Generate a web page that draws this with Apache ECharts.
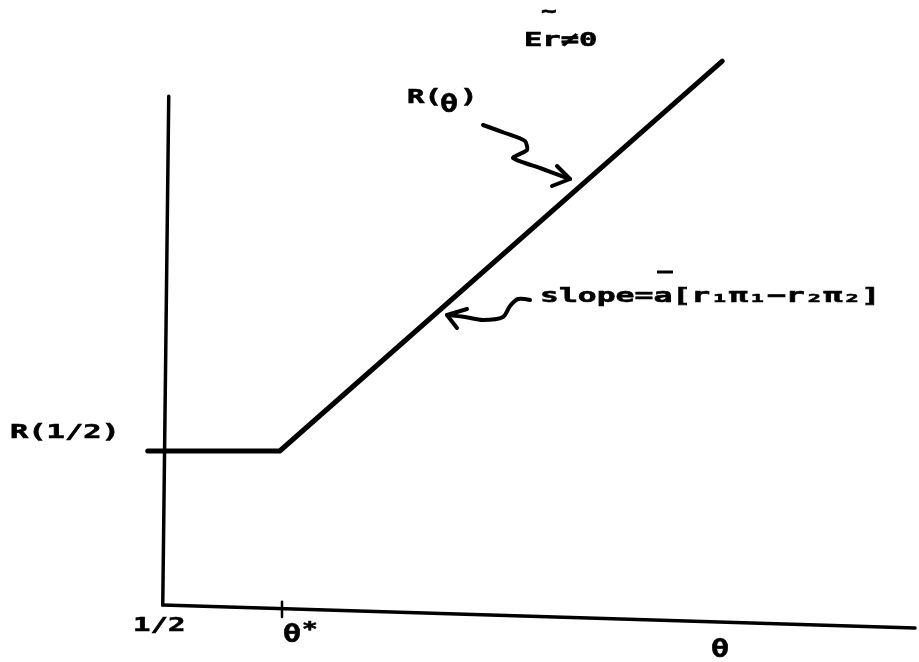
<!DOCTYPE html>
<html><head><meta charset="utf-8">
<script src="https://cdn.jsdelivr.net/npm/echarts@6/dist/echarts.min.js"></script>
<style>html,body{margin:0;padding:0;background:#fff}#c{width:919px;height:662px}</style>
</head><body><div id="c"></div>
<script>
// Abstract units
const thetaTickValues = [0, 1.56];            // 1/2 and θ*
const thetaTickLabels = ['1/2', 'θ*'];
const rHalf = 2.8;                             // R(1/2)
const rCurve = [[-0.23, 2.8], [1.53, 2.8], [7.43, 9.89]];   // R(θ)
const xAxisPts = [[-0.03, 0], [10, -0.42]];
const yAxisPts = [[-0.03, 0], [0.05, 9.25]];
const thetaStarTick = [[1.56, -0.22], [1.56, 0.06]];

const chart = echarts.init(document.getElementById('c'));
const F = 'bold 20px "DejaVu Sans Mono"';
const lineStyle = (w) => ({ color: '#000', width: w, cap: 'round', join: 'round' });

chart.setOption({
  animation: false,
  backgroundColor: '#fff',
  grid: { left: 90, right: 4, top: 55, bottom: 2 },
  xAxis: { type: 'value', min: -1, max: 10, show: false },
  yAxis: { type: 'value', min: -1, max: 10, show: false },
  series: [
    { type: 'line', data: yAxisPts, symbol: 'none', lineStyle: lineStyle(3.5) },
    { type: 'line', data: xAxisPts, symbol: 'none', lineStyle: lineStyle(3.5) },
    { type: 'line', data: thetaStarTick, symbol: 'none', lineStyle: lineStyle(2.5) },
    { type: 'line', data: rCurve, symbol: 'none', lineStyle: lineStyle(5) }
  ]
});

function txt(text, x, y, sx, extra, font) {
  return Object.assign({
    type: 'text', x: x, y: y, scaleX: sx || 1.5,
    style: { text: text, font: font || F, fill: '#000', stroke: '#000', lineWidth: 0.6, align: 'left', verticalAlign: 'top' }
  }, extra || {});
}
const TH = 'bold 24px "DejaVu Sans Mono"';
const p0 = chart.convertToPixel({ gridIndex: 0 }, [thetaTickValues[0], 0]);
const p1 = chart.convertToPixel({ gridIndex: 0 }, [thetaTickValues[1], 0]);
const pr = chart.convertToPixel({ gridIndex: 0 }, [0, rHalf]);
const arrowStyle = { stroke: '#000', lineWidth: 4, fill: null, lineCap: 'round', lineJoin: 'round' };

chart.setOption({
  graphic: [
    txt(thetaTickLabels[0], p0[0] - 32, 616, 1.45),
    txt('θ', p1[0] + 1, 624, 1.25, null, TH),
    txt('*', p1[0] + 20, 620, 1.3),
    txt('θ', 711, 639, 1.25, null, TH),
    txt('R(1/2)', 10, pr[1] - 28, 1.52),
    txt('R(', 407, 88, 1.45),
    txt('θ', 440, 94, 1.25, null, TH),
    txt(')', 460, 88, 1.45),
    txt('~', 541, 2, 1.3),
    txt('Er≠0', 524, 31, 1.52),
    txt('slope=a[r₁π₁−r₂π₂]', 540, 287, 1.57),
    { type: 'line', shape: { x1: 657, y1: 272, x2: 673, y2: 272 }, style: { stroke: '#000', lineWidth: 3 } },
    // annotation arrows
    { type: 'polyline', shape: { points: [[483,125],[505,133],[525,141],[527,150],[513,158],[540,168],[570,179]], smooth: 0.2 },
      style: arrowStyle },
    { type: 'polyline', shape: { points: [[557,166],[570,179],[552,186]] }, style: arrowStyle },
    { type: 'polyline', shape: { points: [[530,300],[518,299],[510,306],[503,317],[483,320],[465,317],[447,315]], smooth: 0.3 },
      style: arrowStyle },
    { type: 'polyline', shape: { points: [[467,309],[447,315],[457,328]] }, style: arrowStyle }
  ]
});
</script></body></html>
